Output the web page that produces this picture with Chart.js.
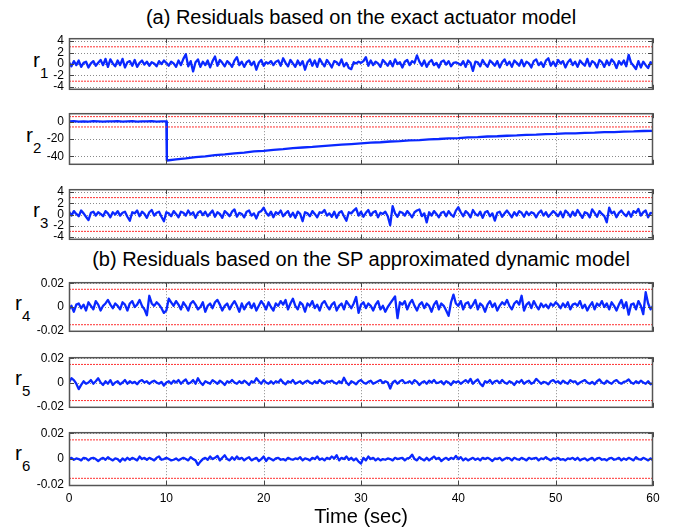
<!DOCTYPE html>
<html>
<head>
<meta charset="utf-8">
<script src="https://cdn.jsdelivr.net/npm/chart.js@4.4.0/dist/chart.umd.min.js"></script>
<style>
  body { margin: 0; background: #fff; width: 676px; height: 530px; position: relative; overflow: hidden;
         font-family: "Liberation Sans", Arial, sans-serif; color: #000; }
  canvas { position: absolute; left: 0; }
  .ttl { position: absolute; left: 0; width: 722px; text-align: center; font-size: 20px; line-height: 24px; white-space: nowrap; }
  .rl { position: absolute; white-space: nowrap; line-height: 24px; }
  .rl .r { font-size: 21px; }
  .rl .s { font-size: 15px; position: relative; top: 11px; }
</style>
</head>
<body>
<div class="ttl" style="top:5px">(a) Residuals based on the exact actuator model</div>
<div class="ttl" style="top:247px">(b) Residuals based on the SP approximated dynamic model</div>
<div class="rl" style="left:33px;top:48px"><span class="r">r</span><span class="s">1</span></div>
<div class="rl" style="left:26px;top:123px"><span class="r">r</span><span class="s">2</span></div>
<div class="rl" style="left:33px;top:198px"><span class="r">r</span><span class="s">3</span></div>
<div class="rl" style="left:15px;top:291px"><span class="r">r</span><span class="s">4</span></div>
<div class="rl" style="left:15px;top:366px"><span class="r">r</span><span class="s">5</span></div>
<div class="rl" style="left:15px;top:441px"><span class="r">r</span><span class="s">6</span></div>
<script>
// sample spacing of the noisy residuals (sec)
const dt = 0.25;

const xTicks = [0, 10, 20, 30, 40, 50, 60];
const yTicksA = [-4, -2, 0, 2, 4];
const yTicksR2 = [-40, -20, 0];
const yTicksB = [-0.02, 0, 0.02];

const limitA = 3;      // r1, r3 thresholds
const limitR2 = 6;
const limitB = 0.015;  // r4..r6 thresholds

const r1 = [
  0.3,-0.4,0.5,-0.2, 0.6,-0.5,0.2,0.4, -0.6,0.1,0.5,-0.3, 0.2,0.7,-0.2,0.9, -0.5,0.8,0.1,-0.4,
  0.6,-0.2,0.9,-0.6, 0.3,0.5,-0.3,0.7, -0.5,0.2,0.6,-0.1, 0.4,-0.3,0.3,0.1, -0.4,0.5,0.0,0.6,
  0.2,-0.3,0.4,0.1, -0.5,0.6,-0.2,0.9, 1.7,-0.4,0.5,-1.3, 0.3,0.8,-0.5,0.4, -0.2,0.6,-0.6,0.5,
  1.3,-0.3,0.7,0.2, -0.4,0.5,0.1,-0.5, 0.6,1.2,-0.2,0.4, -0.5,0.3,0.6,-0.2, 0.4,-1.0,0.2,0.7,
  -0.3,0.3,0.1,0.5, -0.2,0.4,0.6,-0.3, 1.0,0.2,-0.4,0.7, 0.1,-0.5,0.6,-0.2, 0.5,-1.0,0.3,0.8,
  -0.3,0.6,-0.5,0.9, 0.2,-0.4,0.7,0.1, -0.6,0.5,0.3,-0.2, 0.8,-0.4,0.2,-0.7, -0.9,0.3,0.1,0.4,
  0.2,0.5,1.2,-0.3, 0.6,-0.2,0.4,0.1, -0.5,0.7,0.2,-0.3, 0.5,-0.4,0.8,0.0, 0.3,-0.6,0.4,0.7,
  -0.2,0.5,0.2,1.5, 0.4,-0.3,0.6,-0.5, 0.3,0.7,-0.2,0.2, -0.6,0.4,0.6,-0.1, 0.5,-0.4,0.2,0.3,
  0.1,-0.2,0.5,-0.5, 0.6,0.2,-1.2,0.4, 0.3,-0.4,0.7,0.0, -0.5,0.6,0.2,-0.3, 0.5,-0.6,0.3,0.8,
  -0.2,0.4,-0.5,0.6, 0.2,-0.3,0.7,-0.4, 0.4,0.1,-0.6,0.5, 0.8,-0.2,0.3,-0.5, 0.6,1.0,-0.3,0.4,
  -0.4,0.7,0.1,0.5, -0.6,0.3,0.8,-0.2, 0.4,-0.5,0.6,0.1, -0.3,0.9,-0.4,0.5, 0.2,-0.6,0.7,0.3,
  -0.5,0.6,-0.2,0.8, 0.3,-0.7,0.5,-0.1, 0.6,-0.4,1.6,0.2, -0.3,-0.9,0.5,-0.6, 0.4,-0.2,-0.7,0.3,
  0.1
];

const r2Time = [0,0.5,1,1.5,2,2.5,3,3.5,4,4.5,5,5.5,6,6.5,7,7.5,8,8.5,9,9.5,10,10.05,
  11,12,13,14,15,16,17,18,19,20, 21,22,23,24,25,26,27,28,29,30, 31,32,33,34,35,36,37,38,39,40,
  41,42,43,44,45,46,47,48,49,50, 51,52,53,54,55,56,57,58,59,60];
const r2 = [0.4,0.7,0.2,0.6,0.3,0.8,0.5,0.2,0.6,0.4,0.7,0.3,0.5,0.8,0.2,0.6,0.4,0.7,0.3,0.5,0.4,-45.0,
  -43.6,-42.6,-41.1,-40.2,-38.8,-37.9,-36.6,-35.8,-34.5,-33.7,
  -32.6,-31.8,-30.7,-29.9,-29.2,-28.2,-27.5,-26.6,-25.9,-25.2,
  -24.3,-23.8,-22.9,-22.5,-21.6,-21.2,-20.4,-20.0,-19.3,-18.9,
  -18.2,-17.8,-17.1,-16.8,-16.2,-15.9,-15.2,-15.0,-14.4,-14.1,
  -13.5,-13.4,-12.8,-12.6,-12.0,-11.9,-11.4,-11.2,-10.7,-10.5];

const r3 = [
  0.5,-0.2,0.6,0.1, -0.3,0.7,0.2,-0.4, -1.0,0.3,0.5,-0.2, 0.4,0.1,-0.3,0.6, 0.2,-0.5,0.4,0.0,
  0.6,-0.2,0.3,0.5, -0.4,-1.1,0.4,0.2, 0.7,-0.3,0.5,0.1, -0.6,0.4,0.8,-0.2, 0.3,0.5,-0.4,-1.2,
  0.4,0.2,-0.3,0.6, 0.1,-0.5,0.5,0.3, -0.2,0.7,0.0,0.4, -0.6,0.3,0.6,-0.1, 0.5,-0.3,0.2,0.7,
  -0.4,0.4,0.1,-0.6, 0.6,0.2,-0.3,0.5, 0.9,-0.4,0.3,0.1, -0.5,0.5,0.7,-0.2, 0.2,-0.7,0.4,0.6,
  1.2,0.3,-0.2,0.5, -0.5,0.4,0.1,0.7, -0.3,0.2,0.6,-0.4, 0.3,-0.6,0.5,0.1, -1.2,0.4,0.2,-0.3,
  0.6,0.1,-0.5,0.4, 0.3,0.8,-0.2,0.2, -0.4,0.5,-0.6,0.3, 0.6,-0.3,-1.1,0.4, 0.2,0.7,1.1,-0.2,
  0.5,-0.4,0.3,0.8, -0.2,0.4,0.6,-0.5, 0.3,0.1,0.5,-0.3, -1.9,1.5,0.2,-0.4, 0.5,0.3,-0.2,0.6,
  0.1,-0.5,0.4,0.7, 0.9,-0.3,0.2,-1.4, 0.4,-0.2,0.6,0.1, -0.5,0.3,0.5,-0.3, 0.6,0.0,-0.4,0.7,
  1.3,0.4,-0.3,0.6, 0.2,-0.5,0.8,0.1, -0.2,0.5,-0.6,0.4, 0.6,-0.3,0.2,-1.1, 0.3,0.5,-0.4,0.2,
  0.7,0.1,-0.5,0.4, -0.2,0.6,0.3,-0.4, 0.5,-0.1,0.4,0.2, -0.5,0.3,0.7,-0.2, 0.4,-0.4,0.1,0.6,
  0.2,-0.3,0.5,-0.5, 0.7,0.3,-0.4,0.5, -0.2,0.8,0.1,-0.6, 0.4,0.2,-0.5,0.9, 0.3,-0.4,0.6,0.1,
  -0.3,-1.4,1.2,0.2, 0.5,-0.5,0.3,0.7, 0.1,-0.3,0.5,-0.4, 0.6,0.3,1.0,-0.2, 0.4,0.7,-0.5,0.3,
  0.2
];

const r4 = [
  -0.002,0.001,-0.004,0.002, 0.003,-0.001,0.002,-0.003, 0.004,0.001,-0.002,0.005, 0.002,-0.003,0.001,0.003, 0.006,0.002,-0.001,0.003,
  0.001,-0.002,0.004,0.002, -0.003,0.003,0.005,0.000, 0.002,0.006,0.001,-0.002, -0.007,0.0095,0.003,0.001, 0.004,0.002,-0.001,-0.005,
  -0.003,0.007,0.004,0.001, 0.005,0.002,-0.002,0.004, 0.001,-0.003,0.003,0.005, 0.002,-0.002,0.000,0.004, -0.004,0.001,0.003,-0.001,
  0.004,0.006,0.002,-0.003, 0.001,0.003,-0.002,0.002, 0.005,0.001,-0.004,0.003, -0.002,0.002,0.004,-0.001, 0.003,-0.003,0.001,0.005,
  0.002,-0.002,0.004,0.000, -0.003,0.003,0.001,0.005, 0.002,0.006,-0.002,0.003, 0.007,0.001,-0.002,0.004, 0.002,-0.004,0.003,0.001,
  0.005,-0.001,0.002,-0.003, 0.003,0.005,0.001,-0.002, 0.002,0.004,-0.003,0.001, 0.003,-0.002,0.005,0.002, -0.001,0.003,0.0085,-0.005,
  0.002,0.004,-0.001,0.003, 0.001,-0.003,0.002,0.005, -0.002,0.001,-0.004,0.000, 0.003,0.006,0.009,-0.0095, 0.004,0.002,0.005,-0.002,
  0.003,0.006,0.001,-0.003, 0.002,0.004,-0.001,0.003, 0.001,-0.004,0.002,0.005, -0.002,0.003,0.001,-0.003, -0.0075,0.004,0.0105,0.003,
  0.001,0.005,-0.002,0.003, 0.004,-0.001,0.002,0.006, -0.002,0.003,0.001,-0.004, 0.002,0.005,0.000,0.003, -0.003,0.001,0.004,0.002,
  0.006,0.001,-0.002,0.003, 0.005,0.002,0.0095,-0.003, 0.002,0.004,-0.001,0.005, 0.001,-0.002,0.003,0.000, 0.002,-0.001,0.003,0.001,
  0.004,0.002,-0.001,0.003, 0.000,0.004,-0.002,0.002, 0.003,0.001,0.005,-0.001, 0.002,-0.003,0.001,0.004, -0.002,0.003,0.001,0.005,
  0.000,0.003,-0.002,0.004, 0.001,-0.003,0.002,0.006, -0.001,0.004,-0.0065,0.002, 0.003,-0.002,0.005,0.001, -0.006,0.0125,0.003,-0.002,
  0.001
];

const r5 = [
  0.000,0.0035,0.002,-0.001, -0.0055,-0.002,0.001,-0.001, 0.000,0.002,-0.001,0.001, 0.0035,0.000,-0.002,0.001, -0.001,0.002,-0.002,0.000,
  0.001,-0.0015,0.000,0.002, -0.001,0.001,-0.0005,0.0005, -0.0015,0.001,0.002,0.000, 0.001,-0.001,0.0005,0.0015, 0.000,-0.001,0.0005,-0.0025,
  0.000,0.001,-0.001,0.0015, 0.000,0.002,-0.001,0.001, 0.0025,-0.001,0.000,0.002, -0.001,0.0035,0.000,-0.002, 0.001,0.000,-0.001,0.002,
  0.0005,-0.001,0.0015,0.000, -0.002,0.001,0.000,0.002, 0.000,-0.001,0.001,-0.0005, 0.0015,0.000,-0.002,0.001, 0.000,0.0035,0.001,-0.001,
  0.002,0.000,-0.001,0.001, -0.001,0.001,0.000,0.0025, 0.000,-0.0015,0.001,0.000, 0.002,-0.001,0.000,0.001, -0.001,0.0005,0.0015,0.000,
  -0.001,0.001,-0.0005,0.002, 0.000,-0.001,0.001,0.0005, 0.0015,0.000,-0.001,0.001, -0.0005,0.004,0.000,-0.002, 0.001,0.000,-0.0015,0.001,
  0.002,0.000,-0.001,0.0005, 0.0015,-0.001,0.000,0.001, 0.002,-0.0005,0.001,0.000, -0.005,0.000,0.0015,-0.001, 0.001,0.002,-0.0005,0.000,
  0.001,-0.001,0.002,0.0005, -0.002,0.000,0.001,-0.001, 0.0015,0.000,0.002,-0.0005, 0.000,0.001,-0.0015,0.001, 0.000,-0.002,0.001,0.000,
  0.001,-0.001,0.0005,0.002, 0.000,0.003,-0.001,0.001, 0.0025,-0.001,-0.003,0.001, 0.000,0.002,-0.001,0.001, 0.0015,-0.0005,0.002,0.000,
  -0.001,0.001,0.000,-0.002, 0.001,0.000,0.002,-0.001, 0.0005,0.0015,-0.001,0.000, 0.003,0.001,-0.001,0.0005, 0.000,-0.0015,0.001,0.002,
  0.000,0.001,-0.001,0.0015, 0.000,-0.001,0.002,0.0005, 0.001,-0.0015,0.000,0.001, 0.002,0.000,-0.001,0.0005, -0.0015,0.001,0.0025,0.000,
  -0.001,0.0015,0.000,-0.001, 0.001,0.002,0.000,-0.001, 0.0005,0.001,0.0025,0.000, -0.001,0.001,-0.0005,0.0015, 0.000,-0.001,0.001,-0.0015,
  -0.0005
];

const r6 = [
  0.000,0.001,-0.0005,0.0005, 0.000,-0.001,0.001,0.0005, -0.001,0.0005,0.001,0.000, -0.0015,0.000,0.001,-0.0005, 0.0015,0.000,-0.001,0.0005,
  0.000,-0.002,0.0005,-0.001, 0.001,-0.0005,0.001,0.000, -0.001,0.002,0.000,0.001, -0.0005,0.001,0.000,-0.001, 0.001,0.002,-0.0005,0.000,
  0.001,0.000,-0.001,-0.0005, 0.0005,-0.001,0.000,0.001, 0.000,-0.001,0.0015,0.000, -0.001,-0.0045,-0.002,0.000, 0.001,-0.0005,0.002,0.000,
  0.001,0.0025,-0.001,0.001, 0.003,0.000,-0.001,0.0015, -0.0005,0.002,0.000,0.001, -0.001,0.0005,0.0015,-0.001, 0.000,0.001,-0.0015,0.000,
  0.002,-0.0015,0.001,0.000, -0.001,0.0005,0.001,-0.0005, 0.000,-0.001,0.001,0.000, -0.0005,0.0005,0.000,0.0015, -0.001,0.0005,0.000,-0.001,
  0.001,0.000,0.002,-0.0005, 0.0005,-0.001,0.001,0.000, 0.002,0.0005,0.003,-0.001, 0.001,0.000,0.002,-0.0005, 0.001,-0.001,0.0005,-0.002,
  -0.0035,0.001,-0.001,0.002, 0.000,0.001,-0.001,0.0005, -0.001,0.000,-0.0005,0.0005, 0.000,-0.001,0.001,0.000, 0.0005,0.001,-0.001,0.0005,
  0.001,0.0035,0.000,-0.001, 0.0015,0.000,-0.001,0.001, -0.001,0.0005,0.002,0.000, 0.001,-0.0015,0.000,0.001, -0.0005,0.001,0.000,0.0025,
  0.000,0.0015,-0.001,0.0005, -0.001,0.000,0.001,-0.0005, 0.0005,-0.001,0.001,0.000, 0.001,0.000,-0.0015,0.0005, 0.000,0.001,-0.001,0.000,
  0.001,0.0005,-0.001,0.001, 0.000,-0.0005,0.001,0.000, -0.001,0.001,0.000,0.0005, 0.001,-0.001,0.0005,0.000, 0.0015,0.000,-0.001,0.0005,
  0.000,0.001,-0.0005,0.000, -0.001,0.0005,0.000,0.001, -0.0005,0.001,-0.001,0.000, 0.0005,-0.001,0.000,0.001, -0.001,0.0005,0.001,-0.0005,
  0.000,-0.001,0.0005,0.001, -0.0005,0.000,0.001,-0.001, 0.0005,-0.0005,0.001,0.000, -0.001,0.0015,0.000,-0.0005, 0.001,0.000,-0.001,0.0005,
  -0.001
];

const sampleTime = r1.map((_, i) => i * dt);

Chart.defaults.font.family = '"Liberation Sans", Arial, sans-serif';
Chart.defaults.color = '#000';

// MATLAB-like box: dotted grid, frame and inward tick marks
const boxPlugin = {
  id: 'box',
  beforeDatasetsDraw(chart) {
    const { ctx, chartArea: a, scales: { x, y } } = chart;
    ctx.save();
    ctx.strokeStyle = '#8a8a8a';
    ctx.lineWidth = 1;
    ctx.setLineDash([1, 2]);
    ctx.beginPath();
    x.ticks.forEach(t => {
      const px = Math.round(x.getPixelForValue(t.value)) + 0.5;
      if (px > a.left + 2 && px < a.right - 2) { ctx.moveTo(px, a.top); ctx.lineTo(px, a.bottom); }
    });
    y.ticks.forEach(t => {
      const py = Math.round(y.getPixelForValue(t.value)) + 0.5;
      ctx.moveTo(a.left, py); ctx.lineTo(a.right, py);
    });
    ctx.stroke();
    ctx.restore();
  },
  afterDatasetsDraw(chart) {
    const { ctx, chartArea: a, scales: { x, y } } = chart;
    ctx.save();
    ctx.strokeStyle = '#444';
    ctx.lineWidth = 1;
    ctx.beginPath();
    x.ticks.forEach(t => {
      const px = Math.round(x.getPixelForValue(t.value)) + 0.5;
      ctx.moveTo(px, a.bottom); ctx.lineTo(px, a.bottom - 5);
      ctx.moveTo(px, a.top); ctx.lineTo(px, a.top + 5);
    });
    y.ticks.forEach(t => {
      const py = Math.round(y.getPixelForValue(t.value)) + 0.5;
      ctx.moveTo(a.left, py); ctx.lineTo(a.left + 5, py);
      ctx.moveTo(a.right, py); ctx.lineTo(a.right - 5, py);
    });
    ctx.stroke();
    ctx.strokeStyle = '#555';
    ctx.lineWidth = 1.5;
    ctx.strokeRect(a.left + 0.5, a.top + 0.5, a.width - 1, a.height - 1);
    ctx.restore();
  }
};

const panels = [
  { top: 34,  bottom: 94,  t: sampleTime, v: r1, limit: limitA,  min: -4.5,   max: 4.5,   ticks: yTicksA },
  { top: 109, bottom: 169, t: r2Time,     v: r2, limit: limitR2, min: -50,    max: 10,    ticks: yTicksR2 },
  { top: 185, bottom: 244, t: sampleTime, v: r3, limit: limitA,  min: -4.5,   max: 4.5,   ticks: yTicksA },
  { top: 278, bottom: 336, t: sampleTime, v: r4, limit: limitB,  min: -0.021, max: 0.021, ticks: yTicksB },
  { top: 353, bottom: 412, t: sampleTime, v: r5, limit: limitB,  min: -0.021, max: 0.021, ticks: yTicksB },
  { top: 428, bottom: 486, t: sampleTime, v: r6, limit: limitB,  min: -0.021, max: 0.021, ticks: yTicksB }
];

panels.forEach((p, i) => {
  const last = i === panels.length - 1;
  const padTop = 8;
  const xHeight = last ? 44 : 0;
  const padBottom = last ? 0 : 8;
  const canvas = document.createElement('canvas');
  canvas.width = 676;
  canvas.height = p.bottom - p.top + padTop + padBottom + xHeight;
  canvas.style.top = (p.top - padTop) + 'px';
  document.body.appendChild(canvas);

  new Chart(canvas, {
    type: 'line',
    data: {
      datasets: [
        { data: [{ x: 0, y: p.limit }, { x: 60, y: p.limit }], borderColor: '#ff3030', borderWidth: 1, borderDash: [2, 1] },
        { data: [{ x: 0, y: -p.limit }, { x: 60, y: -p.limit }], borderColor: '#ff3030', borderWidth: 1, borderDash: [2, 1] },
        { data: p.v.map((val, k) => ({ x: p.t[k], y: val })), borderColor: '#0a28ff', borderWidth: 2.3, borderJoinStyle: 'round' }
      ]
    },
    options: {
      responsive: false,
      animation: false,
      events: [],
      layout: { padding: { top: padTop, bottom: padBottom, left: 0, right: 23 } },
      elements: { point: { radius: 0 }, line: { tension: 0 } },
      plugins: { legend: { display: false }, tooltip: { enabled: false } },
      scales: {
        x: {
          type: 'linear', min: 0, max: 60,
          afterBuildTicks: s => { s.ticks = xTicks.map(v => ({ value: v })); },
          afterFit: s => { s.height = xHeight; },
          grid: { display: false, drawTicks: false },
          border: { display: false },
          ticks: { display: last, autoSkip: false, padding: 5, font: { size: 12 }, maxRotation: 0, callback: v => String(v) },
          title: { display: last, text: 'Time (sec)', font: { size: 20 }, padding: { top: 0, bottom: 1 } }
        },
        y: {
          type: 'linear', min: p.min, max: p.max,
          afterBuildTicks: s => { s.ticks = p.ticks.map(v => ({ value: v })); },
          afterFit: s => { s.width = 69; },
          grid: { display: false, drawTicks: false },
          border: { display: false },
          ticks: { autoSkip: false, padding: 5, font: { size: 12 }, callback: v => String(v) }
        }
      }
    },
    plugins: [boxPlugin]
  });
});
</script>
</body>
</html>
